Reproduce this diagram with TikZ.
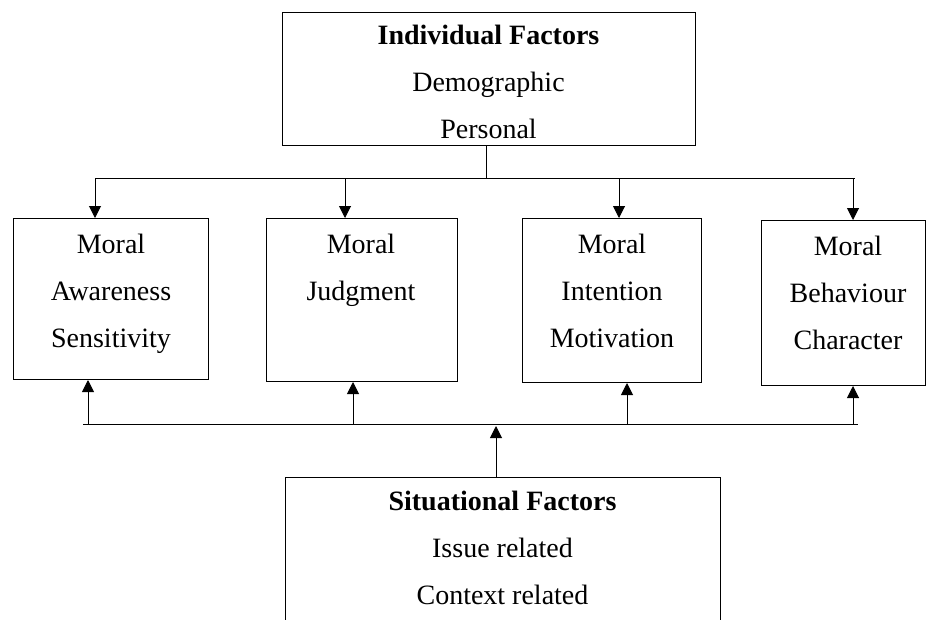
\documentclass[tikz,border=0pt]{standalone}
\usepackage{fontspec}
\setmainfont{Liberation Serif}
\usetikzlibrary{arrows.meta}
\begin{document}
\begin{tikzpicture}[x=1pt,y=-1pt,
  box/.style={draw, line width=1pt, inner sep=0pt, anchor=north west},
  txt/.style={align=center, inner sep=0pt, anchor=north, font=\fontsize{28}{47}\selectfont},
  conn/.style={line width=1pt},
  arr/.style={line width=1pt, -{Triangle[width=12pt,length=12pt]}}]
\useasboundingbox (0,0) rectangle (926,619);
\clip (0,0) rectangle (926,619);

% boxes
\node[box, minimum width=413pt, minimum height=133pt] (top) at (282,12) {};
\node[box, minimum width=195pt, minimum height=161pt] (b1) at (13,218) {};
\node[box, minimum width=191pt, minimum height=163pt] (b2) at (266,218) {};
\node[box, minimum width=179pt, minimum height=164pt] (b3) at (522,218) {};
\node[box, minimum width=164pt, minimum height=165pt] (b4) at (761,220) {};
\node[box, minimum width=435pt, minimum height=170pt] (bot) at (285,477) {};

% texts
\node[txt] (ttop) at (488.5,25) {\textbf{Individual Factors}\\Demographic\\Personal};
\node[txt] (t1) at (111,234) {Moral\\Awareness\\Sensitivity};
\node[txt] (t2) at (361,234) {Moral\\Judgment};
\node[txt] (t3) at (612,234) {Moral\\Intention\\Motivation};
\node[txt] (t4) at (848,236) {Moral\\Behaviour\\Character};
\node[txt] (tbot) at (502.5,491) {\textbf{Situational Factors}\\Issue related\\Context related};

% top bus
\coordinate (tj) at (486,178);
\coordinate (tl) at (95,178);
\coordinate (tr) at (855,178);
\coordinate (a1) at (95,178);
\coordinate (a2) at (345,178);
\coordinate (a3) at (619,178);
\coordinate (a4) at (853,178);
\draw[conn] (tj |- top.south) -- (tj);
\draw[conn] (tl) -- (tr);
\draw[arr] (a1) -- (a1 |- b1.north);
\draw[arr] (a2) -- (a2 |- b2.north);
\draw[arr] (a3) -- (a3 |- b3.north);
\draw[arr] (a4) -- (a4 |- b4.north);

% bottom bus
\coordinate (bl) at (83,424);
\coordinate (br) at (858,424);
\coordinate (c1) at (88,424);
\coordinate (c2) at (353,424);
\coordinate (c3) at (627,424);
\coordinate (c4) at (853,424);
\coordinate (bj) at (496,426);
\draw[conn] (bl) -- (br);
\draw[arr] (c1) -- (c1 |- b1.south);
\draw[arr] (c2) -- (c2 |- b2.south);
\draw[arr] (c3) -- (c3 |- b3.south);
\draw[arr] (c4) -- (c4 |- b4.south);
\draw[arr] (bj |- bot.north) -- (bj);
\end{tikzpicture}
\end{document}
